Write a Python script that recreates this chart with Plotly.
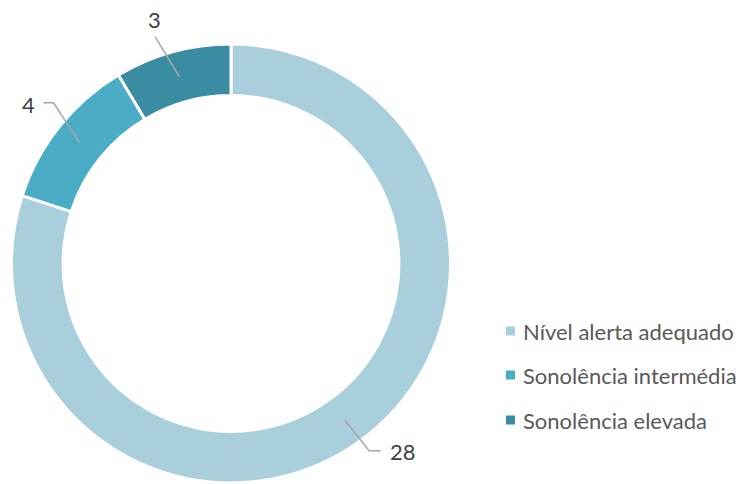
import math
import plotly.graph_objects as go

# ---- data ----
categories = ["Nível alerta adequado", "Sonolência intermédia", "Sonolência elevada"]
values = [28, 4, 3]
colors = ["#A9CFDC", "#4BACC6", "#3A8CA3"]

# ---- layout constants (pixels) ----
W, H = 741, 484
CX, CY = 231.0, 263.5
R_OUT = 219.5
HOLE = 0.765
R_MID = R_OUT * (1 + HOLE) / 2

# label placement offsets relative to the slice mid-point anchor (style only)
elbow_off = [(24.3, 30.6), (-26, -40), (-24.3, -40)]
end_off = [(36, 30.6), (-36, -40), (-24.3, -40)]
text_off = [(43.5, 31.5), (-43, -38), (-25, -57)]
text_anchor = ["left", "right", "center"]

FONT = "Lato, Calibri, Carlito, sans-serif"


def px(x):
    return x / W


def py(y):
    return 1 - y / H


fig = go.Figure(go.Pie(
    labels=categories, values=values, sort=False, direction="clockwise",
    rotation=0, hole=HOLE, textinfo="none", hoverinfo="label+value",
    marker=dict(colors=colors, line=dict(color="white", width=3)),
    domain=dict(x=[px(CX - R_OUT), px(CX + R_OUT)], y=[py(CY + R_OUT), py(CY - R_OUT)]),
    showlegend=False,
))

total = sum(values)
cum = 0
shapes = []
annotations = []
for i, v in enumerate(values):
    mid = (cum + v / 2) / total * 2 * math.pi
    cum += v
    ax = CX + R_MID * math.sin(mid)
    ay = CY - R_MID * math.cos(mid)
    ex, ey = ax + elbow_off[i][0], ay + elbow_off[i][1]
    fx, fy = ax + end_off[i][0], ay + end_off[i][1]
    path = f"M {px(ax)} {py(ay)} L {px(ex)} {py(ey)} L {px(fx)} {py(fy)}"
    shapes.append(dict(type="path", xref="paper", yref="paper", path=path,
                       line=dict(color="#A6A6A6", width=1.5)))
    annotations.append(dict(x=px(ax + text_off[i][0]), y=py(ay + text_off[i][1]),
                            xref="paper", yref="paper", text=str(v), showarrow=False,
                            xanchor=text_anchor[i], yanchor="middle",
                            font=dict(family=FONT, size=22, color="#404040")))

# custom legend
leg_x = 506
leg_y = [331, 375, 420]
sq = 9
for i, name in enumerate(categories):
    y = leg_y[i]
    shapes.append(dict(type="rect", xref="paper", yref="paper",
                       x0=px(leg_x), x1=px(leg_x + sq), y0=py(y + sq / 2), y1=py(y - sq / 2),
                       fillcolor=colors[i], line=dict(width=0)))
    annotations.append(dict(x=px(leg_x + sq + 6), y=py(y), xref="paper", yref="paper",
                            text=name, showarrow=False, xanchor="left", yanchor="middle",
                            font=dict(family=FONT, size=22, color="#595959")))

fig.update_layout(
    width=W, height=H, margin=dict(l=0, r=0, t=0, b=0),
    paper_bgcolor="white", plot_bgcolor="white",
    shapes=shapes, annotations=annotations,
)

fig.write_html("out.html", config={"displayModeBar": False},
               post_script="document.body.style.margin='0';document.body.style.overflow='hidden';")
